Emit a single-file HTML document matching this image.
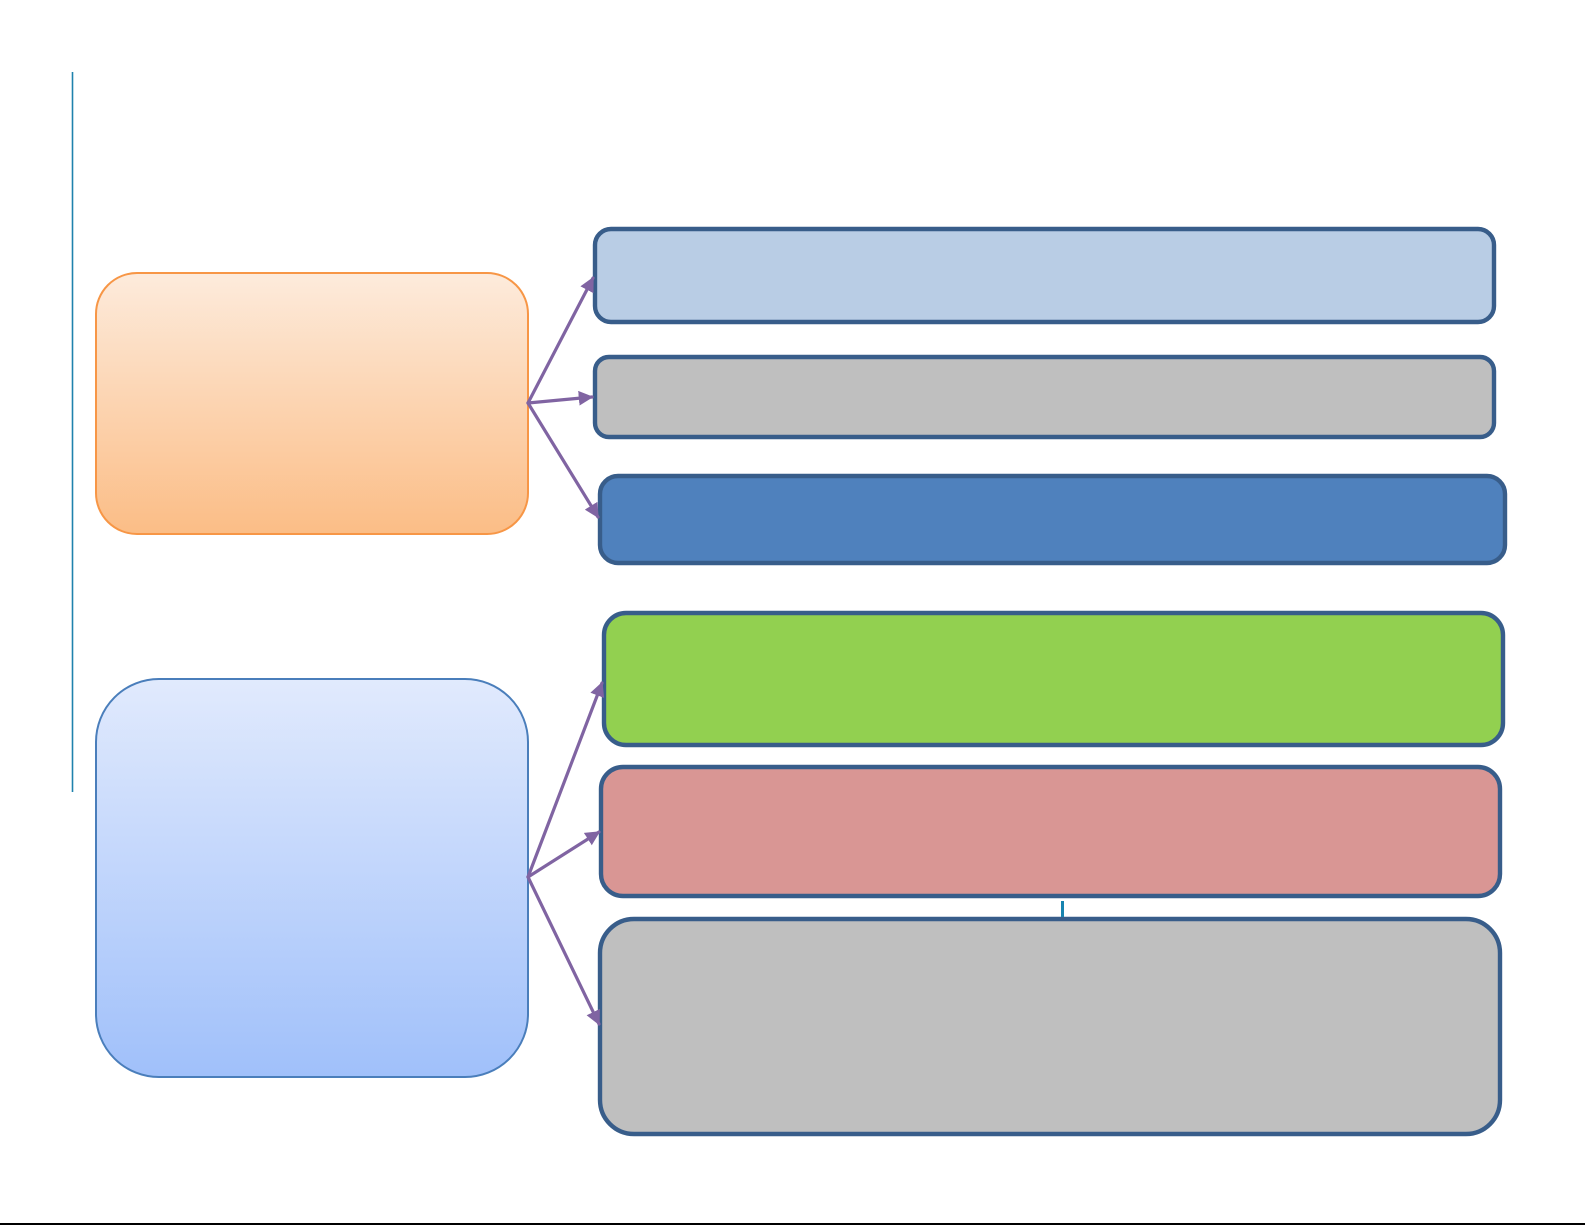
<!DOCTYPE html>
<html>
<head>
<meta charset="utf-8">
<style>
  html, body { margin: 0; padding: 0; background: #ffffff; }
  body { width: 1585px; height: 1225px; overflow: hidden; font-family: "Liberation Sans", sans-serif; }
  svg { display: block; }
</style>
</head>
<body>
<svg width="1585" height="1225" viewBox="0 0 1585 1225" xmlns="http://www.w3.org/2000/svg">
  <defs>
    <linearGradient id="gOrange" x1="0" y1="0" x2="0" y2="1">
      <stop offset="0" stop-color="#fdebdc"/>
      <stop offset="1" stop-color="#fbbd86"/>
    </linearGradient>
    <linearGradient id="gBlue" x1="0" y1="0" x2="0" y2="1">
      <stop offset="0" stop-color="#e1eafd"/>
      <stop offset="1" stop-color="#a0c0fa"/>
    </linearGradient>
    <marker id="ah" viewBox="0 0 10 10" refX="9" refY="5" markerWidth="4.6" markerHeight="4.6" orient="auto" markerUnits="strokeWidth">
      <path d="M0,0 L10,5 L0,10 z" fill="#8064a2"/>
    </marker>
  </defs>

  <rect x="0" y="0" width="1585" height="1225" fill="#ffffff"/>

  <!-- left vertical rule -->
  <line x1="72.5" y1="72" x2="72.5" y2="792" stroke="#1f82ad" stroke-width="1.6"/>

  <!-- left source boxes -->
  <rect x="96" y="273" width="432" height="261" rx="41" ry="41" fill="url(#gOrange)" stroke="#f79646" stroke-width="2"/>
  <rect x="96" y="679" width="432" height="398" rx="63" ry="63" fill="url(#gBlue)" stroke="#4a7ebb" stroke-width="2"/>

  <!-- right boxes (top group) -->
  <rect x="595" y="229" width="899" height="93" rx="16" ry="16" fill="#b9cde5" stroke="#385d8a" stroke-width="4.4"/>
  <rect x="595" y="357" width="899" height="80" rx="14" ry="14" fill="#bfbfbf" stroke="#385d8a" stroke-width="4.4"/>
  <rect x="600" y="476" width="905" height="87" rx="18" ry="18" fill="#4f81bd" stroke="#385d8a" stroke-width="4.4"/>

  <!-- right boxes (bottom group) -->
  <rect x="604" y="613" width="899" height="132" rx="22" ry="22" fill="#92d050" stroke="#385d8a" stroke-width="4.4"/>
  <rect x="601" y="767" width="899" height="129" rx="22" ry="22" fill="#d99694" stroke="#385d8a" stroke-width="4.4"/>
  <rect x="600" y="919" width="900" height="215" rx="34" ry="34" fill="#bfbfbf" stroke="#385d8a" stroke-width="4.4"/>

  <!-- small tick between pink and gray -->
  <rect x="1061" y="901" width="3" height="16" fill="#1884b0"/>

  <!-- arrows -->
  <g stroke="#8064a2" stroke-width="3.2" fill="none" stroke-linecap="round">
    <line x1="528" y1="403" x2="593" y2="278" marker-end="url(#ah)"/>
    <line x1="528" y1="403" x2="592" y2="397" marker-end="url(#ah)"/>
    <line x1="528" y1="403" x2="598" y2="517" marker-end="url(#ah)"/>
    <line x1="528" y1="877" x2="602" y2="683" marker-end="url(#ah)"/>
    <line x1="528" y1="877" x2="599" y2="832" marker-end="url(#ah)"/>
    <line x1="528" y1="877" x2="599" y2="1024" marker-end="url(#ah)"/>
  </g>

  <!-- bottom black line -->
  <rect x="0" y="1223" width="1585" height="2" fill="#000000"/>
</svg>
</body>
</html>
